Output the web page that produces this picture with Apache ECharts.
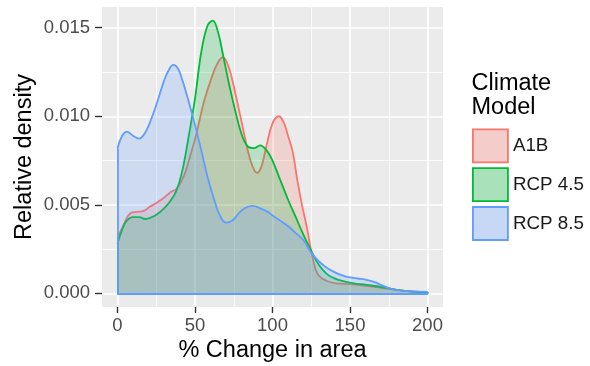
<!DOCTYPE html>
<html>
<head>
<meta charset="utf-8">
<script src="https://cdn.jsdelivr.net/npm/echarts@6/dist/echarts.min.js"></script>
<style>
html,body{margin:0;padding:0;background:#fff;}
#chart{width:590px;height:366px;}
</style>
</head>
<body>
<div id="chart"></div>
<script>
// ---- data ----
const seriesNames = ['A1B', 'RCP 4.5', 'RCP 8.5'];
const seriesColors = ['#F8766D', '#00BA38', '#619CFF'];

const a1bX = [0,4,8,12,17,21,25,30,34,38,41,44,47,50,53,56,60,64,68,72,76,80,84,87,90,93,96,100,104,107,110,113,116,119,122,125,128,131,135,140,150,160,170,180,190,200];
const a1bY = [0.0031,0.0039,0.0045,0.0046,0.00466,0.0049,0.0051,0.0054,0.0057,0.0059,0.0063,0.0069,0.0078,0.0087,0.0098,0.0109,0.0120,0.0129,0.01334,0.0127,0.0113,0.0097,0.0081,0.0072,0.0068,0.0072,0.0083,0.0096,0.0100,0.0097,0.0089,0.0080,0.0064,0.0050,0.0038,0.0024,0.0013,0.0009,0.0007,0.00058,0.00052,0.00043,0.00031,0.0002,0.00011,0.00005];

const rcp45X = [0,3,6,10,14,18,22,26,30,34,38,42,46,50,54,58,61.5,65,68,72,76,80,84,88,92,96,100,105,110,115,120,125,130,135,140,145,150,155,160,165,170,175,180,190,200];
const rcp45Y = [0.0028,0.0036,0.0041,0.0043,0.0043,0.0042,0.0043,0.0045,0.0048,0.0052,0.0058,0.0070,0.0089,0.0110,0.0136,0.0151,0.0154,0.0147,0.0135,0.0118,0.0103,0.0090,0.0083,0.0082,0.00836,0.0081,0.0075,0.0064,0.0053,0.0043,0.0033,0.0024,0.0016,0.0011,0.00085,0.0007,0.0006,0.00054,0.00049,0.00043,0.00036,0.00028,0.0002,0.0001,0.00005];

const rcp85X = [0,3,6,10,14,18,22,26,30,33,36,39,42,46,50,54,58,62,66,70,74,78,82,87,92,97,100,105,110,115,120,125,130,135,140,145,150,155,160,165,170,175,180,190,200];
const rcp85Y = [0.0082,0.0089,0.00913,0.0089,0.00874,0.0091,0.0099,0.0109,0.0120,0.0126,0.0129,0.0127,0.0120,0.0108,0.0095,0.0081,0.0066,0.0054,0.0044,0.0040,0.0041,0.0045,0.0048,0.00494,0.0048,0.0046,0.0044,0.0041,0.0038,0.0034,0.0030,0.0023,0.0018,0.00145,0.0012,0.00102,0.0009,0.00084,0.00078,0.00066,0.00048,0.0003,0.0002,0.00011,0.00008];

const xTicks = [0, 50, 100, 150, 200];
const xMinorTicks = [25, 75, 125, 175];
const yTicks = [0, 0.005, 0.010, 0.015];
const yMinorTicks = [0.0025, 0.0075, 0.0125];
const xRange = [-10, 210];
const yRange = [-0.00077, 0.01617];

// ---- chart ----
const FONT = '"Liberation Sans", Arial, Helvetica, sans-serif';
const chart = echarts.init(document.getElementById('chart'), null, {renderer: 'canvas'});

function toPairs(xs, ys) { return xs.map((x, i) => [x, ys[i]]); }
function edgeLines(xs, ys) {
  const n = xs.length - 1;
  return [
    [{coord: [xs[0], 0]}, {coord: [xs[0], ys[0]]}],
    [{coord: [xs[0], 0]}, {coord: [xs[n], 0]}],
    [{coord: [xs[n], 0]}, {coord: [xs[n], ys[n]]}]
  ];
}
function rgb(hex) {
  return [parseInt(hex.slice(1,3),16), parseInt(hex.slice(3,5),16), parseInt(hex.slice(5,7),16)];
}
function hexA(hex, a) {
  const c = rgb(hex);
  return 'rgba(' + c[0] + ',' + c[1] + ',' + c[2] + ',' + a + ')';
}
function blendOver(hex, a, bg) {
  const c = rgb(hex);
  return 'rgb(' + c.map(v => Math.round(v * a + bg * (1 - a))).join(',') + ')';
}

const allX = [a1bX, rcp45X, rcp85X];
const allY = [a1bY, rcp45Y, rcp85Y];
const LW = 1.8;

const series = seriesNames.map((name, i) => ({
  name: name,
  type: 'line',
  xAxisIndex: 0,
  yAxisIndex: 0,
  data: toPairs(allX[i], allY[i]),
  smooth: 0.4,
  showSymbol: false,
  symbol: 'none',
  lineStyle: {color: seriesColors[i], width: LW},
  itemStyle: {color: seriesColors[i]},
  areaStyle: {color: hexA(seriesColors[i], 0.3), origin: 0},
  emphasis: {disabled: true},
  markLine: {
    silent: true,
    symbol: ['none', 'none'],
    label: {show: false},
    lineStyle: {color: seriesColors[i], width: LW, type: 'solid'},
    emphasis: {disabled: true},
    data: edgeLines(allX[i], allY[i])
  },
  z: 3 + i
}));

const grid = {left: 102, right: 147, top: 7, bottom: 59, show: true, backgroundColor: '#EBEBEB', borderWidth: 0, containLabel: false};

const option = {
  animation: false,
  backgroundColor: '#ffffff',
  grid: grid,
  xAxis: [
    {
      type: 'value', min: xRange[0], max: xRange[1], position: 'bottom',
      axisLine: {show: false, onZero: false},
      axisTick: {show: true, length: 6, customValues: xTicks, lineStyle: {color: '#333333', width: 1.4}},
      axisLabel: {show: true, customValues: xTicks, margin: 9, fontSize: 18.5, color: '#4D4D4D', fontFamily: FONT},
      splitLine: {show: true, lineStyle: {color: '#FFFFFF', width: 1.6}}
    },
    {
      type: 'value', min: xRange[0], max: xRange[1], position: 'top',
      axisLine: {show: false, onZero: false},
      axisTick: {show: false, customValues: xMinorTicks},
      axisLabel: {show: false, customValues: xMinorTicks},
      splitLine: {show: true, lineStyle: {color: '#FFFFFF', width: 0.8}}
    }
  ],
  yAxis: [
    {
      type: 'value', min: yRange[0], max: yRange[1], position: 'left',
      axisLine: {show: false, onZero: false},
      axisTick: {show: true, length: 7, customValues: yTicks, lineStyle: {color: '#333333', width: 1.4}},
      axisLabel: {show: true, customValues: yTicks, margin: 12, fontSize: 18.5, color: '#4D4D4D', fontFamily: FONT,
        formatter: v => v.toFixed(3)},
      splitLine: {show: true, lineStyle: {color: '#FFFFFF', width: 1.6}}
    },
    {
      type: 'value', min: yRange[0], max: yRange[1], position: 'right',
      axisLine: {show: false, onZero: false},
      axisTick: {show: false, customValues: yMinorTicks},
      axisLabel: {show: false, customValues: yMinorTicks},
      splitLine: {show: true, lineStyle: {color: '#FFFFFF', width: 0.8}}
    }
  ],
  legend: {
    orient: 'vertical',
    left: 472,
    top: 128.5,
    padding: 0,
    itemWidth: 35,
    itemHeight: 33,
    itemGap: 4,
    selectedMode: false,
    textStyle: {fontSize: 18.8, color: '#1A1A1A', fontFamily: FONT},
    data: seriesNames.map((n, i) => ({
      name: n,
      icon: 'rect',
      itemStyle: {color: blendOver(seriesColors[i], 0.3, 242), borderColor: seriesColors[i], borderWidth: 1.8},
      lineStyle: {width: 0, opacity: 0}
    }))
  },
  graphic: [
    {type: 'text', x: 25, y: 157, rotation: Math.PI / 2,
      style: {text: 'Relative density', font: '23.5px ' + FONT, fill: '#000000', align: 'center', verticalAlign: 'middle'}},
    {type: 'text', x: 272.5, y: 351,
      style: {text: '% Change in area', font: '23.5px ' + FONT, fill: '#000000', align: 'center', verticalAlign: 'middle'}},
    {type: 'text', x: 471.5, y: 84,
      style: {text: 'Climate', font: '23.5px ' + FONT, fill: '#000000', align: 'left', verticalAlign: 'middle'}},
    {type: 'text', x: 471.5, y: 108,
      style: {text: 'Model', font: '23.5px ' + FONT, fill: '#000000', align: 'left', verticalAlign: 'middle'}}
  ],
  series: series
};
chart.setOption(option);
</script>
</body>
</html>
